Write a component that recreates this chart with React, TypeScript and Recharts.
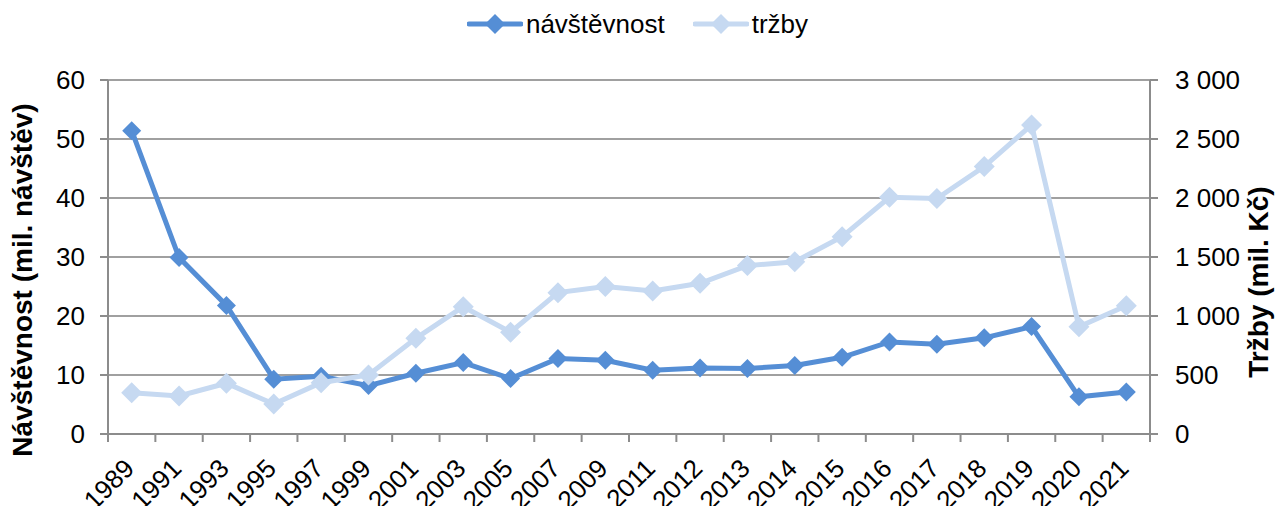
import { CartesianGrid, Legend, Line, LineChart, XAxis, YAxis } from "recharts";

const YEARS = [
  "1989", "1991", "1993", "1995", "1997", "1999", "2001", "2003", "2005", "2007", "2009",
  "2011", "2012", "2013", "2014", "2015", "2016", "2017", "2018", "2019", "2020", "2021",
];
// návštěvnost, mil. návštěv
const VISITS = [
  51.4, 29.9, 21.8, 9.3, 9.8, 8.2, 10.3, 12.1, 9.4, 12.8, 12.5,
  10.8, 11.2, 11.1, 11.6, 13.0, 15.6, 15.2, 16.3, 18.2, 6.3, 7.1,
];
// tržby, mil. Kč
const SALES = [
  350, 322, 430, 254, 435, 500, 811, 1079, 862, 1198, 1249,
  1212, 1277, 1427, 1460, 1672, 2006, 1995, 2266, 2619, 909, 1087,
];
const LEFT_TICKS = [0, 10, 20, 30, 40, 50, 60];
const RIGHT_TICKS = [0, 500, 1000, 1500, 2000, 2500, 3000];

const DARK = "#558ED5";
const LIGHT = "#C6D9F1";
const GRID = "#a0a0a0";
const AXIS = "#8c8c8c";
const FONT = "'Liberation Sans', Arial, sans-serif";

const data = YEARS.map((year, i) => ({ i, year, visits: VISITS[i], sales: SALES[i] }));

// category centres on integers, tick marks on the boundaries between them
const X_TICKS: number[] = [];
for (let k = -0.5; k <= YEARS.length - 0.5; k += 0.5) X_TICKS.push(k);

const fmtThousands = (v: number) => String(v).replace(/\B(?=(\d{3})+(?!\d))/g, " ");

function diamond(color: string, r: number) {
  return (props: any) => {
    const { cx, cy, index } = props;
    if (cx == null || cy == null) return <g key={index} />;
    return (
      <polygon
        key={index}
        points={`${cx},${cy - r} ${cx + r},${cy} ${cx},${cy + r} ${cx - r},${cy}`}
        fill={color}
      />
    );
  };
}

function XTick(props: any) {
  const { x, y, payload } = props;
  const v = payload.value as number;
  if (!Number.isInteger(v)) {
    return <line x1={x} y1={y} x2={x} y2={y + 8} stroke={AXIS} strokeWidth={2} />;
  }
  const tx = x + 4;
  const ty = y + 36;
  return (
    <g transform={`translate(${tx},${ty}) rotate(-45)`}>
      <text x={0} y={0} textAnchor="end" fontSize={26} fontFamily={FONT} fill="#000">
        {YEARS[v]}
      </text>
    </g>
  );
}

function LegendItem({ color, label }: { color: string; label: string }) {
  return (
    <div style={{ display: "flex", alignItems: "center" }}>
      <svg width={56} height={30}>
        <line x1={2} y1={15} x2={54} y2={15} stroke={color} strokeWidth={5} strokeLinecap="round" />
        <polygon points="28,5 38,15 28,25 18,15" fill={color} />
      </svg>
      <span style={{ fontSize: 26, fontFamily: FONT, color: "#000", marginLeft: 3 }}>{label}</span>
    </div>
  );
}

function renderLegend() {
  return (
    <div style={{ height: 80, boxSizing: "border-box", paddingTop: 9 }}>
      <div style={{ display: "flex", justifyContent: "center", gap: 28, height: 30 }}>
        <LegendItem color={DARK} label="návštěvnost" />
        <LegendItem color={LIGHT} label="tržby" />
      </div>
    </div>
  );
}

const leftTitle = (props: any) => {
  const vb = props.viewBox;
  const x = vb.x + 32;
  const y = vb.y + vb.height / 2 + 23;
  return (
    <text x={x} y={y} textAnchor="middle" fontSize={28} fontWeight="bold" fontFamily={FONT}
      fill="#000" transform={`rotate(-90 ${x} ${y})`}>
      Návštěvnost (mil. návštěv)
    </text>
  );
};

const rightTitle = (props: any) => {
  const vb = props.viewBox;
  const x = vb.x + 118;
  const y = vb.y + vb.height / 2 + 25;
  return (
    <text x={x} y={y} textAnchor="middle" fontSize={28} fontWeight="bold" fontFamily={FONT}
      fill="#000" transform={`rotate(-90 ${x} ${y})`}>
      Tržby (mil. Kč)
    </text>
  );
};

export default function App() {
  const tickStyle = { fontSize: 26, fontFamily: FONT, fill: "#000" };
  return (
    <div style={{ position: "absolute", left: 0, top: 0, background: "#fff" }}>
      <LineChart width={1275} height={506} data={data} margin={{ top: 0, right: 0, bottom: 0, left: 0 }}>
        <Legend verticalAlign="top" align="center" content={renderLegend} />
        <CartesianGrid yAxisId="left" vertical={false} stroke={GRID} strokeWidth={2} />
        <XAxis
          dataKey="i"
          type="number"
          domain={[-0.5, YEARS.length - 0.5]}
          ticks={X_TICKS}
          interval={0}
          allowDecimals
          height={72}
          tickSize={0}
          tickMargin={0}
          tickLine={false}
          axisLine={{ stroke: AXIS, strokeWidth: 2 }}
          tick={<XTick />}
        />
        <YAxis
          yAxisId="left"
          orientation="left"
          width={108}
          domain={[0, 60]}
          ticks={LEFT_TICKS}
          interval={0}
          tick={tickStyle}
          tickSize={8}
          tickMargin={15}
          tickLine={{ stroke: AXIS, strokeWidth: 2 }}
          axisLine={{ stroke: AXIS, strokeWidth: 2 }}
          label={{ content: leftTitle }}
        />
        <YAxis
          yAxisId="right"
          orientation="right"
          width={125}
          domain={[0, 3000]}
          ticks={RIGHT_TICKS}
          interval={0}
          tick={tickStyle}
          tickFormatter={fmtThousands}
          tickSize={8}
          tickMargin={17}
          tickLine={{ stroke: AXIS, strokeWidth: 2 }}
          axisLine={{ stroke: AXIS, strokeWidth: 2 }}
          label={{ content: rightTitle }}
        />
        <Line
          yAxisId="left"
          dataKey="visits"
          stroke={DARK}
          strokeWidth={5}
          dot={diamond(DARK, 9.5)}
          activeDot={false}
          isAnimationActive={false}
        />
        <Line
          yAxisId="right"
          dataKey="sales"
          stroke={LIGHT}
          strokeWidth={5}
          dot={diamond(LIGHT, 10.5)}
          activeDot={false}
          isAnimationActive={false}
        />
      </LineChart>
    </div>
  );
}
